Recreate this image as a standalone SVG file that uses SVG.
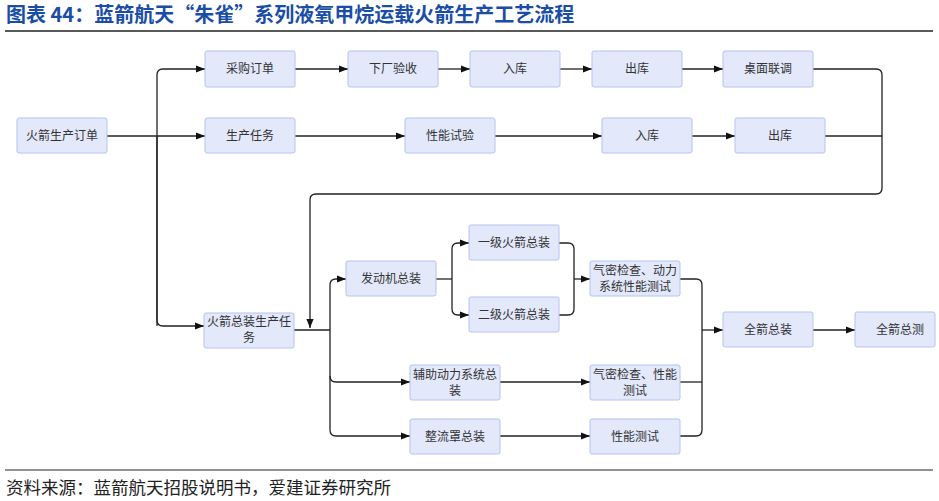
<svg xmlns="http://www.w3.org/2000/svg" width="939" height="501" viewBox="0 0 939 501">
<style>
.b{fill:#e3e9fb;stroke:#b4c2ef;stroke-width:1}
.t{font-family:"Noto Sans CJK SC",sans-serif;font-size:12px;fill:#333;text-anchor:middle}
.c{fill:none;stroke:#222;stroke-width:1.3}
</style>
<defs><marker id="a" viewBox="0 0 10 10" refX="10" refY="5" markerWidth="7" markerHeight="7" orient="auto"><path d="M0,1L10,5L0,9z" fill="#111"/></marker></defs>
<rect width="939" height="501" fill="#fff"/>
<text x="6" y="22" font-family="Noto Sans CJK SC,sans-serif" font-size="20" font-weight="bold" fill="#1a4ea6">图表 44：蓝箭航天“朱雀”系列液氧甲烷运载火箭生产工艺流程</text>
<line x1="5" y1="31" x2="933" y2="31" stroke="#222" stroke-width="1.5"/>
<line x1="5" y1="470" x2="933" y2="470" stroke="#222" stroke-width="1"/>
<text x="6" y="494" font-family="Noto Sans CJK SC,sans-serif" font-size="17.5" fill="#222">资料来源：蓝箭航天招股说明书，爱建证券研究所</text>
<g id="connectors" class="c">
<path d="M107,136H157"/><path d="M157,326V75q0-6 6-6H205" marker-end="url(#a)"/>
<path d="M157,136H205" marker-end="url(#a)"/><path d="M157,136V320q0,6 6,6H204" marker-end="url(#a)"/>
<path d="M295,69H348" marker-end="url(#a)"/><path d="M438,69H470" marker-end="url(#a)"/>
<path d="M560,69H592" marker-end="url(#a)"/><path d="M682,69H723" marker-end="url(#a)"/>
<path d="M295,136H405" marker-end="url(#a)"/><path d="M495,136H602" marker-end="url(#a)"/>
<path d="M692,136H735" marker-end="url(#a)"/>
<path d="M813,69H876q6,0 6,6V188q0,6-6,6H316q-6,0-6,6V328" marker-end="url(#a)"/>
<path d="M825,136H882"/>
<path d="M294,330H330"/>
<path d="M330,330V285q0-6 6-6H346" marker-end="url(#a)"/>
<path d="M330,330V376q0,6 6,6H410" marker-end="url(#a)"/>
<path d="M330,376V430q0,6 6,6H410" marker-end="url(#a)"/>
<path d="M436,279H452"/>
<path d="M452,279V249q0-6 6-6H469" marker-end="url(#a)"/>
<path d="M452,279V309q0,6 6,6H469" marker-end="url(#a)"/>
<path d="M559,243H568q6,0 6,6V309q0,6-6,6H559"/>
<path d="M574,279H590" marker-end="url(#a)"/>
<path d="M500,382H590" marker-end="url(#a)"/><path d="M500,436H590" marker-end="url(#a)"/>
<path d="M680,279H696q6,0 6,6V430q0,6-6,6H680"/><path d="M680,382H702"/>
<path d="M702,330H723" marker-end="url(#a)"/>
<path d="M813,330H855" marker-end="url(#a)"/>
</g>
<g id="n1"><rect class="b" x="17" y="118" width="90" height="35" rx="2"/><text class="t" x="62" y="140">火箭生产订单</text></g>
<g id="n2"><rect class="b" x="205" y="51" width="90" height="36" rx="2"/><text class="t" x="250" y="73">采购订单</text></g>
<g id="n3"><rect class="b" x="348" y="51" width="90" height="36" rx="2"/><text class="t" x="393" y="73">下厂验收</text></g>
<g id="n4"><rect class="b" x="470" y="51" width="90" height="36" rx="2"/><text class="t" x="515" y="73">入库</text></g>
<g id="n5"><rect class="b" x="592" y="51" width="90" height="36" rx="2"/><text class="t" x="637" y="73">出库</text></g>
<g id="n6"><rect class="b" x="723" y="51" width="90" height="36" rx="2"/><text class="t" x="768" y="73">桌面联调</text></g>
<g id="n7"><rect class="b" x="205" y="118" width="90" height="35" rx="2"/><text class="t" x="250" y="140">生产任务</text></g>
<g id="n8"><rect class="b" x="405" y="118" width="90" height="35" rx="2"/><text class="t" x="450" y="140">性能试验</text></g>
<g id="n9"><rect class="b" x="602" y="118" width="90" height="35" rx="2"/><text class="t" x="647" y="140">入库</text></g>
<g id="n10"><rect class="b" x="735" y="118" width="90" height="35" rx="2"/><text class="t" x="780" y="140">出库</text></g>
<g id="n11"><rect class="b" x="204" y="313" width="90" height="35" rx="2"/><text class="t" x="249" y="326">火箭总装生产任</text><text class="t" x="249" y="342">务</text></g>
<g id="n12"><rect class="b" x="346" y="261" width="90" height="35" rx="2"/><text class="t" x="391" y="283">发动机总装</text></g>
<g id="n13"><rect class="b" x="469" y="225" width="90" height="35" rx="2"/><text class="t" x="514" y="247">一级火箭总装</text></g>
<g id="n14"><rect class="b" x="469" y="297" width="90" height="35" rx="2"/><text class="t" x="514" y="319">二级火箭总装</text></g>
<g id="n15"><rect class="b" x="590" y="261" width="90" height="35" rx="2"/><text class="t" x="635" y="275">气密检查、动力</text><text class="t" x="635" y="291">系统性能测试</text></g>
<g id="n16"><rect class="b" x="410" y="365" width="90" height="35" rx="2"/><text class="t" x="455" y="379">辅助动力系统总</text><text class="t" x="455" y="395">装</text></g>
<g id="n17"><rect class="b" x="590" y="365" width="90" height="35" rx="2"/><text class="t" x="635" y="379">气密检查、性能</text><text class="t" x="635" y="395">测试</text></g>
<g id="n18"><rect class="b" x="410" y="419" width="90" height="35" rx="2"/><text class="t" x="455" y="441">整流罩总装</text></g>
<g id="n19"><rect class="b" x="590" y="419" width="90" height="35" rx="2"/><text class="t" x="635" y="441">性能测试</text></g>
<g id="n20"><rect class="b" x="723" y="312" width="90" height="35" rx="2"/><text class="t" x="768" y="334">全箭总装</text></g>
<g id="n21"><rect class="b" x="855" y="312" width="80" height="35" rx="2"/><text class="t" x="900" y="334">全箭总测</text></g>
</svg>
